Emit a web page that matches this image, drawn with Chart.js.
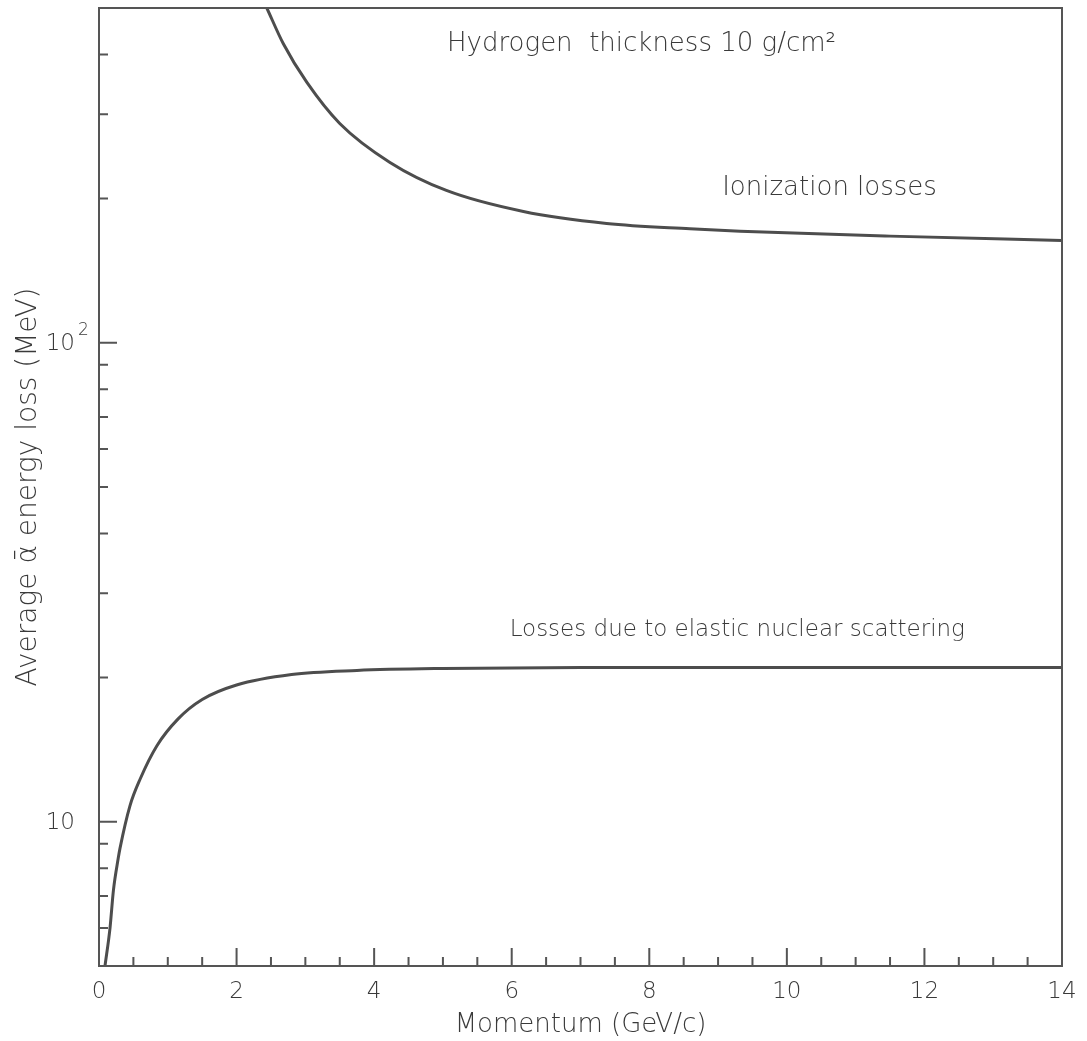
<!DOCTYPE html>
<html>
<head>
<meta charset="utf-8">
<script src="https://cdn.jsdelivr.net/npm/chart.js@4.4.0/dist/chart.umd.min.js"></script>
<style>
  html, body { margin: 0; padding: 0; background: #fff; }
  #wrap { width: 1087px; height: 1041px; }
</style>
</head>
<body>
<div id="wrap"><canvas id="lossChart" width="1087" height="1041"></canvas></div>
<script>
// alpha momentum (GeV/c) -> average energy loss (MeV)
const ionMomentum = [2.44, 2.68, 3.02, 3.5, 4.23, 5.05, 6.17, 7.38, 8.59, 9.32, 11.5, 14];
const ionLoss = [500, 421, 350, 287, 238, 208, 188, 177.5, 173, 171, 167, 163.5];

const elasticMomentum = [0.087, 0.16, 0.21, 0.28, 0.305, 0.45, 0.6, 0.84, 1.15, 1.5, 2.0, 2.8, 3.75, 5, 7, 10, 14];
const elasticLoss = [5.0, 6.0, 7.2, 8.4, 8.8, 10.8, 12.3, 14.4, 16.4, 18.0, 19.3, 20.3, 20.7, 20.9, 21.0, 21.0, 21.0];

// tick marks (drawn inward, like the original)
const xMajorTicks = [0, 2, 4, 6, 8, 10, 12, 14];
const xMinorTicks = [0.5, 1, 1.5, 2.5, 3, 3.5, 4.5, 5, 5.5, 6.5, 7, 7.5, 8.5, 9, 9.5, 10.5, 11, 11.5, 12.5, 13, 13.5];
const yMajorTicks = [10, 100];
const yMinorTicks = [6, 7, 8, 9, 20, 30, 40, 50, 60, 70, 80, 90, 200, 300, 400];
const yLabelBase = ['10', '10'];
const yLabelExp = ['', '2'];

// text notes inside the frame: [text, momentum, loss, font px]
const notes = [
  ['Hydrogen  thickness 10 g/cm\u00b2', 5.06, 420, 26],
  ['Ionization losses', 9.06, 210, 26],
  ['Losses due to elastic nuclear scattering', 5.97, 25.2, 23],
];

const ink = '#555555';
const textInk = '#3a3a3a';
const fontFamily = "'DejaVu Sans', sans-serif";
const fontWeight = 300;

const frameAndTicks = {
  id: 'frameAndTicks',
  afterDatasetsDraw(chart) {
    const { ctx, chartArea: a, scales: { x, y } } = chart;
    ctx.save();
    ctx.strokeStyle = ink;
    ctx.lineWidth = 2;
    ctx.strokeRect(a.left, a.top, a.right - a.left, a.bottom - a.top);

    ctx.beginPath();
    xMajorTicks.forEach(v => {
      const px = x.getPixelForValue(v);
      ctx.moveTo(px, a.bottom);
      ctx.lineTo(px, a.bottom - 18);
    });
    xMinorTicks.forEach(v => {
      const px = x.getPixelForValue(v);
      ctx.moveTo(px, a.bottom);
      ctx.lineTo(px, a.bottom - 9);
    });
    yMajorTicks.forEach(v => {
      const py = y.getPixelForValue(v);
      ctx.moveTo(a.left, py);
      ctx.lineTo(a.left + 18, py);
    });
    yMinorTicks.forEach(v => {
      const py = y.getPixelForValue(v);
      ctx.moveTo(a.left, py);
      ctx.lineTo(a.left + 9, py);
    });
    ctx.stroke();

    // y tick labels with a raised exponent
    ctx.fillStyle = textInk;
    ctx.textBaseline = 'middle';
    yMajorTicks.forEach((v, i) => {
      const py = y.getPixelForValue(v);
      ctx.font = fontWeight + ' 23px ' + fontFamily;
      ctx.textAlign = 'right';
      ctx.fillText(yLabelBase[i], a.left - 24, py + 1);
      if (yLabelExp[i]) {
        ctx.font = fontWeight + ' 17px ' + fontFamily;
        ctx.textAlign = 'left';
        ctx.fillText(yLabelExp[i], a.left - 21, py - 12);
      }
    });

    ctx.textAlign = 'left';
    notes.forEach(([text, px, py, size]) => {
      ctx.font = fontWeight + ' ' + size + 'px ' + fontFamily;
      ctx.fillText(text, x.getPixelForValue(px), y.getPixelForValue(py));
    });
    ctx.restore();
  }
};

const toPoints = (xs, ys) => xs.map((p, i) => ({ x: p, y: ys[i] }));

new Chart(document.getElementById('lossChart'), {
  type: 'scatter',
  data: {
    datasets: [
      {
        label: 'Ionization losses',
        data: toPoints(ionMomentum, ionLoss),
        showLine: true,
        borderColor: '#4d4d4d',
        borderWidth: 3,
        pointRadius: 0,
        cubicInterpolationMode: 'monotone',
      },
      {
        label: 'Elastic nuclear scattering',
        data: toPoints(elasticMomentum, elasticLoss),
        showLine: true,
        borderColor: '#4d4d4d',
        borderWidth: 3,
        pointRadius: 0,
        cubicInterpolationMode: 'monotone',
      },
    ],
  },
  options: {
    responsive: false,
    animation: false,
    layout: { padding: { top: 8, right: 25, left: 0, bottom: 0 } },
    plugins: { legend: { display: false }, tooltip: { enabled: false } },
    scales: {
      x: {
        type: 'linear',
        min: 0,
        max: 14,
        grid: { display: false },
        border: { display: false },
        ticks: { stepSize: 2, color: textInk, font: { family: fontFamily, size: 23, weight: fontWeight }, padding: 4, maxRotation: 0 },
        title: { display: true, text: 'Momentum (GeV/c)', color: textInk, font: { family: fontFamily, size: 26, weight: fontWeight }, padding: { top: 4, bottom: 0 } },
        afterFit(scale) { scale.height = 75; },
      },
      y: {
        type: 'logarithmic',
        min: 5,
        max: 500,
        grid: { display: false },
        border: { display: false },
        ticks: { display: false },
        title: { display: true, text: 'Average \u1fb1 energy loss (MeV)', color: textInk, font: { family: fontFamily, size: 28, weight: fontWeight }, padding: { top: 12, bottom: 0 } },
        afterFit(scale) { scale.width = 99; },
      },
    },
  },
  plugins: [frameAndTicks],
});
</script>
</body>
</html>
